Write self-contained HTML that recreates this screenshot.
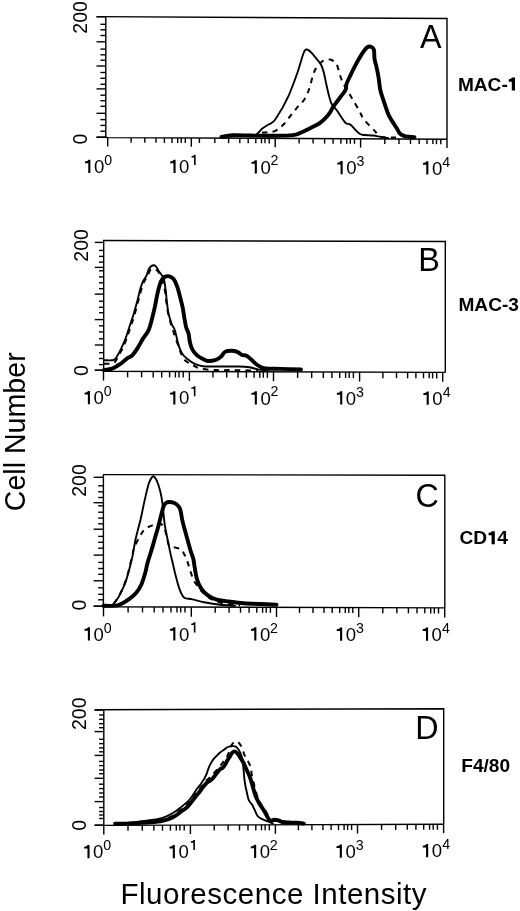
<!DOCTYPE html>
<html><head><meta charset="utf-8"><style>
html,body{margin:0;padding:0;background:#fff;}
svg{display:block;filter:grayscale(1);}
text{font-family:"Liberation Sans",sans-serif;fill:#000;}
</style></head><body>
<svg width="520" height="911" viewBox="0 0 520 911">
<rect width="520" height="911" fill="#fff"/>
<g stroke="#000" stroke-width="1.4" fill="none" stroke-linecap="butt"><path d="M96.5,16.6 L447.0,18.5 L447.0,139.2" /><path d="M105.8,16.6 L105.8,137.6" /><path d="M96.5,137.2 L105.8,137.2 L107.7,137.6 L447.0,139.2" /><path d="M96.5,16.8 H105.8" /><path d="M96.5,41.8 H105.8" /><path d="M96.5,66.0 H105.8" /><path d="M96.5,88.9 H105.8" /><path d="M96.5,113.3 H105.8" /><path d="M96.5,137.2 H105.8" /><path d="M100.4,24.3 H105.8" /><path d="M100.4,29.8 H105.8" /><path d="M100.4,35.5 H105.8" /><path d="M100.4,49.1 H105.8" /><path d="M100.4,54.8 H105.8" /><path d="M100.4,60.2 H105.8" /><path d="M100.4,72.5 H105.8" /><path d="M100.4,78.3 H105.8" /><path d="M100.4,84.3 H105.8" /><path d="M100.4,95.2 H105.8" /><path d="M100.4,100.7 H105.8" /><path d="M100.4,106.3 H105.8" /><path d="M100.4,119.6 H105.8" /><path d="M100.4,125.4 H105.8" /><path d="M100.4,131.2 H105.8" /><path d="M199.4,138.0 V143.0" /><path d="M107.7,137.6 V146.4" /><path d="M131.1,137.7 V142.7" /><path d="M144.8,137.8 V142.8" /><path d="M156.0,137.8 V142.8" /><path d="M164.4,137.9 V142.9" /><path d="M172.0,137.9 V142.9" /><path d="M177.7,137.9 V142.9" /><path d="M181.2,137.9 V142.9" /><path d="M185.3,138.0 V143.0" /><path d="M191.3,138.0 V146.8" /><path d="M214.8,138.1 V143.1" /><path d="M228.6,138.2 V143.2" /><path d="M239.8,138.2 V143.2" /><path d="M248.2,138.3 V143.3" /><path d="M255.8,138.3 V143.3" /><path d="M261.5,138.3 V143.3" /><path d="M265.0,138.3 V143.3" /><path d="M269.2,138.4 V143.4" /><path d="M275.2,138.4 V147.2" /><path d="M299.1,138.5 V143.5" /><path d="M313.1,138.6 V143.6" /><path d="M324.6,138.6 V143.6" /><path d="M333.1,138.7 V143.7" /><path d="M340.9,138.7 V143.7" /><path d="M346.7,138.7 V143.7" /><path d="M350.3,138.7 V143.7" /><path d="M354.5,138.8 V143.8" /><path d="M360.6,138.8 V147.6" /><path d="M384.8,138.9 V143.9" /><path d="M399.0,139.0 V144.0" /><path d="M410.5,139.0 V144.0" /><path d="M419.2,139.1 V144.1" /><path d="M427.0,139.1 V144.1" /><path d="M432.9,139.1 V144.1" /><path d="M436.5,139.2 V144.2" /><path d="M440.8,139.2 V144.2" /><path d="M447.0,139.2 V148.0" /></g>
<path d="M256.0,135.0 C256.5,134.5 258.0,133.0 259.0,132.0 C260.0,131.0 260.6,130.0 262.0,128.8 C263.4,127.6 266.2,125.9 267.7,125.0 C269.2,124.1 269.7,124.2 270.8,123.5 C271.9,122.8 273.4,121.8 274.5,120.5 C275.6,119.2 276.7,117.3 277.7,115.7 C278.7,114.1 279.6,112.4 280.5,111.0 C281.4,109.6 281.8,109.2 282.9,107.1 C284.0,105.0 286.0,100.9 287.2,98.5 C288.4,96.1 288.3,96.8 290.0,92.5 C291.7,88.2 295.2,79.2 297.5,72.5 C299.8,65.8 302.2,56.3 303.8,52.5 C305.3,48.7 305.8,49.5 307.0,49.5 C308.2,49.5 309.5,50.8 311.2,52.5 C313.0,54.2 315.8,57.9 317.5,60.0 C319.2,62.1 320.2,62.9 321.2,65.0 C322.3,67.1 322.9,69.4 323.8,72.5 C324.6,75.6 325.4,80.0 326.2,83.8 C327.1,87.5 327.9,91.8 328.8,95.0 C329.6,98.2 330.2,100.8 331.2,103.0 C332.3,105.2 333.9,106.5 335.0,108.0 C336.1,109.5 336.8,110.3 337.9,111.9 C339.0,113.5 340.4,115.9 341.7,117.7 C343.0,119.5 344.3,121.9 345.6,123.0 C346.9,124.1 348.3,123.7 349.4,124.2 C350.5,124.8 351.2,125.2 352.3,126.3 C353.4,127.4 354.9,129.4 356.2,130.7 C357.5,132.0 358.7,133.3 360.0,134.0 C361.3,134.7 361.6,134.8 363.8,135.0 C366.1,135.2 371.1,135.3 373.5,135.5 C375.9,135.7 376.7,136.1 378.3,136.4 C379.9,136.7 381.4,137.1 383.0,137.4 C384.6,137.7 387.2,137.9 388.0,138.0" stroke="#000" stroke-width="1.9" fill="none" stroke-linejoin="round" stroke-linecap="round"/>
<path d="M262.0,132.7 C262.9,132.6 265.5,132.6 267.7,132.3 C269.9,132.0 272.8,132.0 275.4,130.8 C277.9,129.6 280.4,127.6 283.0,125.0 C285.6,122.4 288.2,118.6 290.8,115.4 C293.4,112.2 296.3,108.4 298.5,105.8 C300.7,103.2 302.3,102.6 304.0,100.0 C305.7,97.4 306.9,95.0 308.8,90.0 C310.6,85.0 312.7,74.8 315.0,70.0 C317.3,65.2 320.0,63.0 322.5,61.2 C325.0,59.5 327.9,59.3 330.0,59.5 C332.1,59.7 333.8,61.4 335.0,62.5 C336.2,63.6 336.2,63.1 337.4,66.2 C338.6,69.4 340.0,76.3 342.2,81.2 C344.4,86.1 347.7,90.9 350.4,95.6 C353.1,100.3 356.4,105.7 358.6,109.5 C360.8,113.3 361.4,115.8 363.4,118.7 C365.4,121.6 368.6,124.7 370.6,126.8 C372.6,128.9 374.2,130.2 375.4,131.6 C376.6,133.0 376.9,134.1 378.0,135.0 C379.1,135.9 379.0,136.6 382.0,137.0 C385.0,137.4 393.7,137.4 396.0,137.5" stroke="#000" stroke-width="2.0" fill="none" stroke-dasharray="5.4 5.2" stroke-linejoin="round"/>
<path d="M221.5,137.0 C222.4,136.8 225.1,136.3 227.0,136.0 C228.9,135.7 229.2,135.4 233.0,135.3 C236.8,135.2 243.8,135.4 250.0,135.5 C256.2,135.6 263.3,135.8 270.0,135.8 C276.7,135.8 285.6,135.7 290.0,135.4 C294.4,135.2 294.7,134.8 296.7,134.3 C298.7,133.8 299.6,133.3 301.9,132.2 C304.2,131.1 307.7,129.3 310.6,127.9 C313.5,126.5 316.9,125.0 319.2,123.5 C321.5,122.0 322.7,120.9 324.4,119.2 C326.1,117.5 328.2,115.2 329.6,113.2 C331.0,111.2 332.0,108.7 333.0,107.1 C334.0,105.5 334.2,105.4 335.5,103.6 C336.8,101.8 339.1,98.8 340.8,96.5 C342.5,94.2 344.7,91.9 345.6,89.8 C346.6,87.7 345.7,86.4 346.5,84.0 C347.3,81.6 349.1,78.1 350.4,75.4 C351.7,72.7 352.8,70.5 354.2,67.7 C355.6,64.9 357.5,61.4 359.0,58.8 C360.5,56.2 361.8,54.0 363.1,52.1 C364.5,50.2 365.9,48.3 367.1,47.4 C368.3,46.5 369.4,46.4 370.5,46.7 C371.6,47.0 373.1,47.4 373.8,49.4 C374.5,51.4 374.1,55.9 374.5,58.8 C374.9,61.7 375.8,63.8 376.5,66.9 C377.2,70.1 378.0,73.9 378.6,77.7 C379.2,81.5 379.6,86.4 380.3,90.0 C381.1,93.6 382.1,96.1 383.1,99.2 C384.1,102.3 385.2,105.7 386.2,108.5 C387.2,111.3 387.9,113.7 389.2,116.2 C390.5,118.8 392.5,121.8 393.8,123.8 C395.1,125.8 395.9,126.9 396.9,128.5 C397.9,130.1 398.7,132.3 400.0,133.6 C401.3,134.9 403.1,135.6 404.6,136.1 C406.1,136.6 407.4,136.6 409.0,136.8 C410.6,137.0 413.6,137.1 414.5,137.1" stroke="#000" stroke-width="3.9" fill="none" stroke-linejoin="round" stroke-linecap="round"/>
<text x="93.88" y="173.10" font-size="18.6">0</text>
<path d="M90.38,173.10 L90.38,159.83 L88.47,159.83 Q87.87,161.56 84.95,161.56 L84.95,163.32 L88.27,163.32 L88.27,173.10 Z" fill="#000"/>
<text x="104.15" y="165.00" font-size="14.2">0</text>
<text x="179.08" y="173.10" font-size="18.6">0</text>
<path d="M175.58,173.10 L175.58,159.83 L173.67,159.83 Q173.07,161.56 170.15,161.56 L170.15,163.32 L173.47,163.32 L173.47,173.10 Z" fill="#000"/>
<path d="M195.64,165.00 L195.64,154.87 L194.19,154.87 Q193.73,156.19 191.50,156.19 L191.50,157.54 L194.03,157.54 L194.03,165.00 Z" fill="#000"/>
<text x="260.38" y="173.50" font-size="18.6">0</text>
<path d="M256.88,173.50 L256.88,160.23 L254.97,160.23 Q254.37,161.96 251.45,161.96 L251.45,163.72 L254.77,163.72 L254.77,173.50 Z" fill="#000"/>
<text x="270.49" y="165.40" font-size="14.2">2</text>
<text x="346.18" y="174.20" font-size="18.6">0</text>
<path d="M342.68,174.20 L342.68,160.93 L340.77,160.93 Q340.17,162.66 337.25,162.66 L337.25,164.42 L340.57,164.42 L340.57,174.20 Z" fill="#000"/>
<text x="356.46" y="166.10" font-size="14.2">3</text>
<text x="431.88" y="174.60" font-size="18.6">0</text>
<path d="M428.38,174.60 L428.38,161.33 L426.47,161.33 Q425.87,163.06 422.95,163.06 L422.95,164.82 L426.27,164.82 L426.27,174.60 Z" fill="#000"/>
<text x="442.37" y="166.50" font-size="14.2">4</text>
<text transform="translate(87.40,33.68) rotate(-90)" font-size="19.5">200</text>
<text transform="translate(86.90,144.56) rotate(-90)" font-size="19.5">0</text>
<text x="420.04" y="47.80" font-size="32.3">A</text>
<text x="457.92" y="90.50" font-size="19.1" font-weight="bold">MAC-</text>
<path d="M515.01,90.60 L515.01,77.58 L512.00,77.58 Q511.38,79.24 508.78,79.24 L508.78,81.65 L511.79,81.65 L511.79,90.60 Z" fill="#000"/>
<g stroke="#000" stroke-width="1.4" fill="none" stroke-linecap="butt"><path d="M103.0,240.5 L445.3,241.5 L445.3,372.4" /><path d="M103.7,240.5 L103.7,371.2" /><path d="M94.8,370.3 L103.7,370.3 L103.5,371.2 L445.3,372.4" /><path d="M94.8,242.4 H103.7" /><path d="M94.8,267.4 H103.7" /><path d="M94.8,294.1 H103.7" /><path d="M94.8,319.6 H103.7" /><path d="M94.8,345.0 H103.7" /><path d="M94.8,370.3 H103.7" /><path d="M99.0,250.4 H103.7" /><path d="M99.0,256.4 H103.7" /><path d="M99.0,262.1 H103.7" /><path d="M99.0,270.8 H103.7" /><path d="M99.0,276.9 H103.7" /><path d="M99.0,282.8 H103.7" /><path d="M99.0,288.7 H103.7" /><path d="M99.0,301.2 H103.7" /><path d="M99.0,307.3 H103.7" /><path d="M99.0,312.7 H103.7" /><path d="M99.0,325.8 H103.7" /><path d="M99.0,331.9 H103.7" /><path d="M99.0,338.8 H103.7" /><path d="M99.0,352.7 H103.7" /><path d="M99.0,358.5 H103.7" /><path d="M99.0,364.6 H103.7" /><path d="M103.5,371.2 V380.6" /><path d="M127.6,371.3 V377.3" /><path d="M141.6,371.3 V377.3" /><path d="M153.2,371.4 V377.4" /><path d="M161.7,371.4 V377.4" /><path d="M169.6,371.4 V377.4" /><path d="M175.4,371.5 V377.5" /><path d="M179.0,371.5 V377.5" /><path d="M183.2,371.5 V377.5" /><path d="M189.4,371.5 V380.9" /><path d="M212.9,371.6 V377.6" /><path d="M226.7,371.6 V377.6" /><path d="M238.0,371.7 V377.7" /><path d="M246.4,371.7 V377.7" /><path d="M254.1,371.7 V377.7" /><path d="M259.8,371.7 V377.7" /><path d="M263.3,371.8 V377.8" /><path d="M267.4,371.8 V377.8" /><path d="M273.5,371.8 V381.2" /><path d="M297.6,371.9 V377.9" /><path d="M311.7,371.9 V377.9" /><path d="M323.3,372.0 V378.0" /><path d="M331.9,372.0 V378.0" /><path d="M339.7,372.0 V378.0" /><path d="M345.6,372.0 V378.0" /><path d="M349.2,372.1 V378.1" /><path d="M353.4,372.1 V378.1" /><path d="M359.6,372.1 V381.5" /><path d="M382.9,372.2 V378.2" /><path d="M396.5,372.2 V378.2" /><path d="M407.6,372.3 V378.3" /><path d="M415.9,372.3 V378.3" /><path d="M423.5,372.3 V378.3" /><path d="M429.2,372.3 V378.3" /><path d="M432.6,372.4 V378.4" /><path d="M436.7,372.4 V378.4" /><path d="M442.7,372.4 V381.8" /></g>
<path d="M104.0,360.1 C105.6,360.1 111.2,360.8 113.5,360.0 C115.8,359.2 116.2,357.6 117.5,355.6 C118.8,353.6 120.2,350.8 121.5,347.9 C122.8,345.0 124.2,342.0 125.6,338.4 C126.9,334.8 128.3,330.3 129.6,326.3 C130.9,322.3 132.2,318.7 133.6,314.2 C134.9,309.7 136.6,303.7 137.7,299.4 C138.8,295.1 139.5,291.6 140.4,288.6 C141.3,285.6 142.1,283.3 143.1,281.2 C144.1,279.1 145.4,278.0 146.4,275.9 C147.4,273.8 148.1,270.2 149.1,268.5 C150.1,266.8 151.4,265.9 152.5,265.5 C153.6,265.1 154.8,265.3 155.9,266.4 C157.0,267.4 158.2,270.3 159.2,271.8 C160.2,273.3 161.1,273.9 161.9,275.2 C162.7,276.4 163.3,276.8 163.9,279.3 C164.5,281.8 165.2,286.4 165.7,290.2 C166.2,294.0 166.4,298.3 166.9,302.3 C167.4,306.3 167.9,310.7 168.7,314.3 C169.5,317.9 170.7,321.4 171.7,324.0 C172.7,326.6 173.9,327.4 174.8,330.0 C175.7,332.6 176.4,336.7 177.2,339.7 C178.0,342.7 178.7,345.8 179.6,348.2 C180.5,350.6 181.3,352.4 182.6,354.2 C183.9,356.0 185.4,357.4 187.4,359.0 C189.4,360.6 192.1,362.7 194.7,363.9 C197.3,365.1 199.7,365.9 203.1,366.3 C206.5,366.7 209.1,366.5 215.0,366.5 C220.9,366.5 233.0,366.4 238.8,366.5 C244.6,366.6 246.3,366.8 249.6,367.3 C252.9,367.8 255.7,369.1 258.8,369.6 C261.9,370.1 266.5,370.4 268.0,370.5" stroke="#000" stroke-width="1.9" fill="none" stroke-linejoin="round" stroke-linecap="round"/>
<path d="M104.0,363.7 C104.9,363.7 107.6,363.9 109.4,363.7 C111.2,363.5 113.3,363.7 114.8,362.3 C116.3,360.9 117.2,357.8 118.5,355.5 C119.8,353.2 121.2,351.2 122.5,348.5 C123.8,345.8 125.2,342.6 126.5,339.0 C127.8,335.4 129.2,331.0 130.5,327.0 C131.8,323.0 133.2,319.5 134.5,315.0 C135.8,310.5 137.4,304.2 138.5,300.0 C139.6,295.8 140.4,292.5 141.3,289.5 C142.2,286.5 143.0,284.2 144.0,282.0 C145.0,279.8 146.3,278.4 147.3,276.5 C148.3,274.6 149.2,271.7 150.0,270.5 C150.8,269.3 150.9,269.3 151.8,269.1 C152.7,268.9 154.1,268.6 155.2,269.1 C156.3,269.6 157.6,270.9 158.5,272.0 C159.4,273.1 159.7,274.0 160.5,276.0 C161.3,278.0 162.7,281.2 163.5,284.0 C164.3,286.8 164.8,289.8 165.3,293.0 C165.8,296.2 166.0,299.3 166.5,303.0 C167.0,306.7 167.6,311.1 168.5,315.0 C169.4,318.9 170.7,323.1 171.7,326.4 C172.7,329.7 173.5,332.0 174.5,335.0 C175.5,338.0 176.8,341.7 177.8,344.5 C178.8,347.3 179.5,349.6 180.5,352.0 C181.5,354.4 182.6,357.2 183.8,359.0 C185.1,360.8 186.6,361.5 188.0,362.5 C189.4,363.5 190.2,364.0 192.3,365.0 C194.4,366.0 196.8,367.8 200.7,368.7 C204.6,369.6 210.7,369.9 215.8,370.1 C220.9,370.3 225.6,370.1 231.2,370.1 C236.8,370.2 245.1,370.3 249.6,370.4 C254.1,370.5 256.6,370.6 258.0,370.6" stroke="#000" stroke-width="2.0" fill="none" stroke-dasharray="5.4 5.2" stroke-linejoin="round"/>
<path d="M104.0,370.1 C105.3,369.9 109.4,369.7 112.1,368.7 C114.8,367.7 117.7,365.7 120.2,364.0 C122.7,362.3 124.9,360.1 126.9,358.6 C128.9,357.2 130.5,357.1 132.3,355.3 C134.1,353.5 135.9,350.7 137.7,347.9 C139.5,345.1 141.3,341.3 143.1,338.4 C144.9,335.5 147.1,333.5 148.5,330.4 C149.9,327.3 150.8,323.5 151.8,319.6 C152.9,315.7 153.8,311.5 154.8,307.1 C155.8,302.7 156.6,297.3 157.6,293.0 C158.6,288.7 159.8,284.2 160.9,281.5 C162.1,278.8 163.1,277.9 164.5,277.0 C165.9,276.1 167.8,276.0 169.3,276.3 C170.8,276.6 172.3,277.3 173.6,279.0 C174.9,280.7 176.1,283.5 177.2,286.6 C178.3,289.7 179.3,294.0 180.2,297.4 C181.1,300.8 181.9,303.7 182.6,307.1 C183.3,310.5 183.8,314.6 184.4,318.0 C185.0,321.4 185.5,325.0 186.2,327.6 C186.9,330.2 188.0,331.3 188.6,333.7 C189.2,336.1 189.3,339.5 189.9,342.1 C190.5,344.7 191.1,347.2 192.3,349.4 C193.5,351.6 195.3,353.8 197.1,355.4 C198.9,357.0 201.3,358.1 203.1,359.0 C204.9,359.9 205.9,360.9 208.0,361.0 C210.1,361.1 213.6,360.6 215.8,359.9 C218.0,359.1 219.7,357.8 221.2,356.5 C222.7,355.2 223.3,352.8 225.0,351.9 C226.7,350.9 229.1,350.8 231.2,350.8 C233.2,350.8 235.5,351.2 237.3,351.9 C239.1,352.6 240.4,354.4 241.9,355.0 C243.4,355.6 244.9,355.0 246.5,355.8 C248.1,356.6 249.4,358.1 251.2,359.6 C253.0,361.1 255.2,363.6 257.3,365.0 C259.4,366.4 261.4,367.5 263.5,368.1 C265.6,368.7 267.2,368.6 270.0,368.7 C272.8,368.8 274.8,368.8 280.0,368.9 C285.2,369.0 297.5,369.4 301.0,369.5" stroke="#000" stroke-width="3.9" fill="none" stroke-linejoin="round" stroke-linecap="round"/>
<text x="93.48" y="404.30" font-size="18.6">0</text>
<path d="M89.98,404.30 L89.98,391.03 L88.07,391.03 Q87.47,392.76 84.55,392.76 L84.55,394.52 L87.87,394.52 L87.87,404.30 Z" fill="#000"/>
<text x="103.75" y="396.20" font-size="14.2">0</text>
<text x="178.88" y="404.40" font-size="18.6">0</text>
<path d="M175.38,404.40 L175.38,391.13 L173.47,391.13 Q172.87,392.86 169.95,392.86 L169.95,394.62 L173.27,394.62 L173.27,404.40 Z" fill="#000"/>
<path d="M195.44,396.30 L195.44,386.17 L193.99,386.17 Q193.53,387.49 191.30,387.49 L191.30,388.84 L193.83,388.84 L193.83,396.30 Z" fill="#000"/>
<text x="260.38" y="404.50" font-size="18.6">0</text>
<path d="M256.88,404.50 L256.88,391.23 L254.97,391.23 Q254.37,392.96 251.45,392.96 L251.45,394.72 L254.77,394.72 L254.77,404.50 Z" fill="#000"/>
<text x="270.49" y="396.40" font-size="14.2">2</text>
<text x="345.78" y="404.60" font-size="18.6">0</text>
<path d="M342.28,404.60 L342.28,391.33 L340.37,391.33 Q339.77,393.06 336.85,393.06 L336.85,394.82 L340.17,394.82 L340.17,404.60 Z" fill="#000"/>
<text x="356.06" y="396.50" font-size="14.2">3</text>
<text x="432.28" y="404.70" font-size="18.6">0</text>
<path d="M428.78,404.70 L428.78,391.43 L426.87,391.43 Q426.27,393.16 423.35,393.16 L423.35,394.92 L426.67,394.92 L426.67,404.70 Z" fill="#000"/>
<text x="442.77" y="396.60" font-size="14.2">4</text>
<text transform="translate(88.40,261.68) rotate(-90)" font-size="19.5">200</text>
<text transform="translate(88.20,375.96) rotate(-90)" font-size="19.5">0</text>
<text x="418.15" y="270.60" font-size="32.3">B</text>
<text x="458.47" y="310.70" font-size="19.1" font-weight="bold">MAC-3</text>
<g stroke="#000" stroke-width="1.4" fill="none" stroke-linecap="butt"><path d="M103.0,474.6 L444.8,475.3 L444.8,607.9" /><path d="M103.4,474.6 L103.4,606.8" /><path d="M93.6,606.1 L103.4,606.1 L103.5,606.8 L444.8,607.9" /><path d="M93.6,477.3 H103.4" /><path d="M93.6,502.7 H103.4" /><path d="M93.6,529.2 H103.4" /><path d="M93.6,555.1 H103.4" /><path d="M93.6,580.8 H103.4" /><path d="M93.6,606.2 H103.4" /><path d="M98.2,485.8 H103.4" /><path d="M98.2,491.8 H103.4" /><path d="M98.2,497.5 H103.4" /><path d="M98.2,505.8 H103.4" /><path d="M98.2,512.2 H103.4" /><path d="M98.2,518.1 H103.4" /><path d="M98.2,523.8 H103.4" /><path d="M98.2,536.4 H103.4" /><path d="M98.2,542.3 H103.4" /><path d="M98.2,548.2 H103.4" /><path d="M98.2,562.4 H103.4" /><path d="M98.2,568.5 H103.4" /><path d="M98.2,574.3 H103.4" /><path d="M98.2,587.8 H103.4" /><path d="M98.2,594.3 H103.4" /><path d="M98.2,599.8 H103.4" /><path d="M103.5,606.8 V616.4" /><path d="M128.1,606.9 V612.4" /><path d="M142.5,606.9 V612.4" /><path d="M154.2,607.0 V612.5" /><path d="M163.0,607.0 V612.5" /><path d="M171.0,607.0 V612.5" /><path d="M177.0,607.0 V612.5" /><path d="M180.7,607.0 V612.5" /><path d="M185.0,607.1 V612.6" /><path d="M191.3,607.1 V616.7" /><path d="M215.2,607.2 V612.7" /><path d="M229.1,607.2 V612.7" /><path d="M240.5,607.2 V612.7" /><path d="M249.1,607.3 V612.8" /><path d="M256.8,607.3 V612.8" /><path d="M262.6,607.3 V612.8" /><path d="M266.2,607.3 V612.8" /><path d="M270.4,607.3 V612.8" /><path d="M276.5,607.4 V617.0" /><path d="M299.5,607.4 V612.9" /><path d="M313.0,607.5 V613.0" /><path d="M324.0,607.5 V613.0" /><path d="M332.2,607.5 V613.0" /><path d="M339.7,607.6 V613.1" /><path d="M345.3,607.6 V613.1" /><path d="M348.8,607.6 V613.1" /><path d="M352.8,607.6 V613.1" /><path d="M358.7,607.6 V617.2" /><path d="M382.8,607.7 V613.2" /><path d="M396.9,607.7 V613.2" /><path d="M408.4,607.8 V613.3" /><path d="M417.0,607.8 V613.3" /><path d="M424.8,607.8 V613.3" /><path d="M430.7,607.9 V613.4" /><path d="M434.3,607.9 V613.4" /><path d="M438.5,607.9 V613.4" /><path d="M444.7,607.9 V617.5" /></g>
<path d="M103.5,605.8 C104.7,605.8 108.4,606.5 110.4,605.8 C112.4,605.1 113.9,603.7 115.6,601.5 C117.3,599.3 119.1,596.3 120.8,592.8 C122.5,589.3 124.5,585.1 126.0,580.7 C127.5,576.3 128.9,570.6 130.0,566.5 C131.1,562.4 131.6,560.5 132.5,556.1 C133.4,551.7 134.5,544.5 135.4,540.0 C136.3,535.5 137.2,532.6 138.1,529.0 C139.0,525.4 139.7,523.4 140.8,518.5 C141.9,513.6 143.5,505.4 144.8,499.6 C146.1,493.8 147.7,487.1 148.8,483.5 C149.9,479.9 150.7,479.2 151.5,478.0 C152.3,476.8 152.7,475.8 153.6,476.3 C154.5,476.8 155.8,478.3 156.9,480.8 C158.0,483.3 159.4,487.9 160.3,491.5 C161.2,495.1 161.8,498.5 162.3,502.3 C162.9,506.1 163.2,510.4 163.6,514.4 C164.0,518.4 164.3,522.2 165.0,526.5 C165.7,530.8 166.8,535.5 167.7,540.0 C168.6,544.5 169.6,549.6 170.4,553.4 C171.2,557.2 171.8,559.0 172.7,563.0 C173.6,567.0 174.9,572.9 176.1,577.3 C177.2,581.7 178.4,586.2 179.6,589.4 C180.8,592.6 181.9,595.0 183.0,596.5 C184.1,598.0 184.4,597.8 186.0,598.3 C187.6,598.8 189.5,598.7 192.7,599.4 C195.9,600.1 200.8,601.6 205.4,602.5 C210.0,603.4 215.3,604.2 220.2,604.7 C225.1,605.2 232.5,605.5 235.0,605.7" stroke="#000" stroke-width="1.9" fill="none" stroke-linejoin="round" stroke-linecap="round"/>
<path d="M104.0,606.5 C105.3,606.2 109.8,606.2 112.0,605.0 C114.2,603.8 115.3,601.5 117.0,599.0 C118.7,596.5 120.3,593.7 122.0,590.0 C123.7,586.3 125.6,581.5 127.0,577.0 C128.4,572.5 129.6,566.7 130.5,563.0 C131.4,559.3 131.9,557.5 132.5,555.0 C133.1,552.5 132.8,551.1 134.0,548.1 C135.2,545.1 137.6,540.4 139.4,537.3 C141.2,534.1 142.6,531.2 144.8,529.2 C147.1,527.2 150.4,526.1 152.9,525.2 C155.4,524.3 157.8,523.6 159.6,523.8 C161.4,524.0 162.5,524.7 163.6,526.5 C164.7,528.3 165.4,531.5 166.3,534.6 C167.2,537.8 167.7,543.3 169.0,545.4 C170.3,547.5 172.4,546.7 174.4,547.4 C176.4,548.1 179.5,548.4 181.1,549.4 C182.7,550.4 182.9,551.8 183.8,553.4 C184.7,555.0 185.7,556.9 186.5,558.8 C187.3,560.7 187.8,562.8 188.5,565.0 C189.2,567.2 189.7,569.4 190.6,571.9 C191.5,574.4 192.5,577.8 193.7,580.3 C194.9,582.8 196.4,584.6 198.0,586.7 C199.6,588.8 201.0,590.9 203.3,593.0 C205.6,595.1 208.2,597.6 211.7,599.4 C215.2,601.2 219.7,602.6 224.4,603.6 C229.1,604.6 237.4,605.2 240.0,605.5" stroke="#000" stroke-width="2.0" fill="none" stroke-dasharray="5.4 5.2" stroke-linejoin="round"/>
<path d="M103.5,605.8 C105.5,605.8 112.4,606.0 115.6,605.6 C118.8,605.2 120.2,604.3 122.5,603.2 C124.8,602.1 127.1,600.6 129.4,598.9 C131.7,597.2 134.3,595.2 136.3,592.8 C138.3,590.3 140.1,587.4 141.5,584.2 C142.9,581.0 144.0,577.3 145.0,573.8 C146.0,570.3 146.7,566.1 147.5,563.0 C148.3,559.9 149.1,557.9 150.0,555.0 C150.9,552.1 152.0,548.6 152.9,545.4 C153.8,542.2 154.6,539.1 155.5,536.0 C156.4,532.9 157.4,529.9 158.3,526.5 C159.2,523.1 160.1,519.2 161.0,515.8 C161.9,512.4 162.8,508.4 163.6,506.3 C164.4,504.2 165.1,503.7 166.0,503.0 C166.9,502.3 167.6,502.0 169.0,502.0 C170.4,502.0 172.8,502.3 174.4,503.0 C176.0,503.7 177.5,505.1 178.5,506.3 C179.5,507.5 179.8,507.9 180.5,510.4 C181.2,512.9 181.5,516.8 182.5,521.1 C183.5,525.4 185.2,531.0 186.5,536.0 C187.8,541.0 189.5,547.0 190.6,550.8 C191.7,554.6 192.6,555.9 193.3,558.8 C194.0,561.7 194.2,564.6 194.8,568.0 C195.4,571.4 195.9,575.6 196.9,579.0 C197.9,582.4 199.3,585.6 201.1,588.3 C202.9,591.0 205.0,593.2 207.5,595.1 C210.0,597.0 212.4,598.3 215.9,599.4 C219.4,600.5 224.0,600.9 228.6,601.5 C233.2,602.1 238.1,602.8 243.4,603.2 C248.7,603.6 254.8,603.8 260.3,604.0 C265.8,604.2 273.8,604.6 276.5,604.7" stroke="#000" stroke-width="3.9" fill="none" stroke-linejoin="round" stroke-linecap="round"/>
<text x="93.48" y="640.60" font-size="18.6">0</text>
<path d="M89.98,640.60 L89.98,627.33 L88.07,627.33 Q87.47,629.06 84.55,629.06 L84.55,630.82 L87.87,630.82 L87.87,640.60 Z" fill="#000"/>
<text x="103.75" y="632.50" font-size="14.2">0</text>
<text x="178.88" y="640.60" font-size="18.6">0</text>
<path d="M175.38,640.60 L175.38,627.33 L173.47,627.33 Q172.87,629.06 169.95,629.06 L169.95,630.82 L173.27,630.82 L173.27,640.60 Z" fill="#000"/>
<path d="M195.44,632.50 L195.44,622.37 L193.99,622.37 Q193.53,623.69 191.30,623.69 L191.30,625.04 L193.83,625.04 L193.83,632.50 Z" fill="#000"/>
<text x="259.88" y="640.60" font-size="18.6">0</text>
<path d="M256.38,640.60 L256.38,627.33 L254.47,627.33 Q253.87,629.06 250.95,629.06 L250.95,630.82 L254.27,630.82 L254.27,640.60 Z" fill="#000"/>
<text x="269.99" y="632.50" font-size="14.2">2</text>
<text x="345.68" y="640.70" font-size="18.6">0</text>
<path d="M342.18,640.70 L342.18,627.43 L340.27,627.43 Q339.67,629.16 336.75,629.16 L336.75,630.92 L340.07,630.92 L340.07,640.70 Z" fill="#000"/>
<text x="355.96" y="632.60" font-size="14.2">3</text>
<text x="431.58" y="640.70" font-size="18.6">0</text>
<path d="M428.08,640.70 L428.08,627.43 L426.17,627.43 Q425.57,629.16 422.65,629.16 L422.65,630.92 L425.97,630.92 L425.97,640.70 Z" fill="#000"/>
<text x="442.07" y="632.60" font-size="14.2">4</text>
<text transform="translate(86.00,496.78) rotate(-90)" font-size="19.5">200</text>
<text transform="translate(85.80,610.56) rotate(-90)" font-size="19.5">0</text>
<text x="415.56" y="506.50" font-size="32.3">C</text>
<text x="459.47" y="544.20" font-size="19.1" font-weight="bold">CD</text>
<path d="M494.81,544.20 L494.81,531.18 L491.80,531.18 Q491.18,532.84 488.58,532.84 L488.58,535.25 L491.59,535.25 L491.59,544.20 Z" fill="#000"/>
<text x="497.21" y="544.20" font-size="19.1" font-weight="bold">4</text>
<g stroke="#000" stroke-width="1.4" fill="none" stroke-linecap="butt"><path d="M94.6,709.8 L443.7,708.7 L443.7,824.2" /><path d="M103.8,709.8 L103.8,825.4" /><path d="M94.6,825.2 L103.8,825.2 L103.8,825.4 L443.7,824.2" /><path d="M94.6,710.1 H103.8" /><path d="M94.6,731.6 H103.8" /><path d="M94.6,755.4 H103.8" /><path d="M94.6,778.3 H103.8" /><path d="M94.6,801.6 H103.8" /><path d="M94.6,825.2 H103.8" /><path d="M99.1,715.0 H103.8" /><path d="M99.1,719.3 H103.8" /><path d="M99.1,723.7 H103.8" /><path d="M99.1,727.7 H103.8" /><path d="M99.1,739.3 H103.8" /><path d="M99.1,743.6 H103.8" /><path d="M99.1,747.9 H103.8" /><path d="M99.1,751.8 H103.8" /><path d="M99.1,761.4 H103.8" /><path d="M99.1,765.6 H103.8" /><path d="M99.1,770.0 H103.8" /><path d="M99.1,773.7 H103.8" /><path d="M99.1,784.2 H103.8" /><path d="M99.1,788.6 H103.8" /><path d="M99.1,793.0 H103.8" /><path d="M99.1,797.0 H103.8" /><path d="M99.1,807.5 H103.8" /><path d="M99.1,811.5 H103.8" /><path d="M99.1,815.0 H103.8" /><path d="M99.1,818.5 H103.8" /><path d="M103.8,825.4 V834.4" /><path d="M128.0,825.3 V830.8" /><path d="M142.3,825.3 V830.8" /><path d="M153.9,825.2 V830.7" /><path d="M162.5,825.2 V830.7" /><path d="M170.4,825.2 V830.7" /><path d="M176.3,825.1 V830.6" /><path d="M179.9,825.1 V830.6" /><path d="M184.2,825.1 V830.6" /><path d="M190.4,825.1 V834.1" /><path d="M214.2,825.0 V830.5" /><path d="M228.1,825.0 V830.5" /><path d="M239.5,824.9 V830.4" /><path d="M248.0,824.9 V830.4" /><path d="M255.8,824.9 V830.4" /><path d="M261.5,824.8 V830.3" /><path d="M265.1,824.8 V830.3" /><path d="M269.3,824.8 V830.3" /><path d="M275.4,824.8 V833.8" /><path d="M298.4,824.7 V830.2" /><path d="M311.9,824.7 V830.2" /><path d="M322.9,824.6 V830.1" /><path d="M331.1,824.6 V830.1" /><path d="M338.5,824.6 V830.1" /><path d="M344.1,824.6 V830.1" /><path d="M347.6,824.5 V830.0" /><path d="M351.6,824.5 V830.0" /><path d="M357.5,824.5 V833.5" /><path d="M381.6,824.4 V829.9" /><path d="M395.7,824.4 V829.9" /><path d="M407.3,824.3 V829.8" /><path d="M415.9,824.3 V829.8" /><path d="M423.7,824.3 V829.8" /><path d="M429.6,824.2 V829.7" /><path d="M433.2,824.2 V829.7" /><path d="M437.4,824.2 V829.7" /><path d="M443.6,824.2 V833.2" /></g>
<path d="M115.0,824.0 C116.7,823.9 121.9,823.6 125.0,823.3 C128.1,823.0 129.6,822.7 133.8,822.2 C138.0,821.7 145.2,820.9 150.0,820.2 C154.8,819.5 158.8,818.9 162.5,817.8 C166.2,816.6 169.4,815.1 172.5,813.3 C175.6,811.5 178.3,809.4 181.2,807.0 C184.2,804.6 187.4,802.0 190.0,799.0 C192.6,796.0 194.9,791.7 196.7,789.2 C198.5,786.7 199.6,785.7 200.8,784.0 C202.1,782.3 203.2,780.5 204.2,778.9 C205.1,777.3 205.8,775.9 206.5,774.2 C207.2,772.6 207.6,770.7 208.3,769.0 C209.0,767.3 209.7,765.4 210.6,763.8 C211.5,762.2 212.4,760.6 213.5,759.2 C214.6,757.8 215.8,756.8 216.9,755.6 C218.1,754.5 219.2,753.3 220.4,752.3 C221.6,751.3 222.9,750.5 223.9,749.7 C224.9,749.0 225.5,748.3 226.5,747.8 C227.5,747.2 228.9,746.7 230.0,746.4 C231.1,746.1 231.9,746.0 232.9,746.1 C233.9,746.2 234.9,746.2 235.8,746.7 C236.7,747.2 237.4,748.1 238.1,749.0 C238.8,749.9 239.2,750.6 239.8,751.8 C240.4,753.0 241.0,754.3 241.5,756.0 C242.0,757.7 242.4,759.2 242.8,762.0 C243.2,764.8 243.5,769.1 243.8,772.5 C244.1,775.9 244.3,779.1 244.8,782.4 C245.3,785.7 246.1,789.3 246.8,792.3 C247.5,795.3 248.0,798.2 248.8,800.2 C249.6,802.2 250.7,802.5 251.7,804.1 C252.7,805.7 253.7,808.0 254.7,810.0 C255.7,812.0 256.5,814.5 257.6,816.0 C258.8,817.5 260.1,818.1 261.6,818.9 C263.1,819.7 264.6,820.1 266.5,820.9 C268.4,821.7 271.8,823.1 272.9,823.6" stroke="#000" stroke-width="1.9" fill="none" stroke-linejoin="round" stroke-linecap="round"/>
<path d="M116.0,823.5 C119.5,823.4 129.7,823.2 136.7,822.6 C143.7,822.0 151.9,821.1 157.9,820.0 C163.9,818.9 168.6,817.6 172.5,815.8 C176.4,814.0 178.8,811.3 181.2,809.3 C183.8,807.3 185.5,806.0 187.5,804.0 C189.5,802.0 191.0,799.5 193.0,797.0 C195.0,794.5 198.0,791.0 199.6,789.0 C201.2,787.0 201.3,786.7 202.5,785.2 C203.7,783.8 205.3,781.6 206.5,780.3 C207.7,779.0 208.8,778.4 209.8,777.5 C210.8,776.6 211.5,775.8 212.3,775.0 C213.1,774.2 213.7,773.5 214.6,772.5 C215.5,771.5 216.5,770.2 217.5,769.0 C218.5,767.8 219.4,766.7 220.4,765.5 C221.4,764.3 222.3,763.1 223.3,761.8 C224.3,760.5 225.4,759.1 226.2,757.8 C227.0,756.5 227.7,755.4 228.3,754.0 C228.9,752.6 229.4,751.0 230.0,749.5 C230.6,748.0 231.0,746.2 231.7,745.0 C232.4,743.8 233.1,742.9 234.0,742.3 C234.9,741.7 236.3,741.3 237.3,741.6 C238.3,741.9 239.1,743.1 239.9,744.2 C240.7,745.3 241.6,746.5 242.3,748.3 C243.0,750.0 243.6,753.0 244.3,754.7 C245.0,756.4 245.5,757.2 246.3,758.7 C247.1,760.2 248.4,761.9 249.2,763.6 C250.0,765.3 250.8,766.9 251.2,769.0 C251.6,771.1 251.3,773.2 251.9,776.0 C252.5,778.8 253.6,782.7 254.5,786.0 C255.4,789.3 256.2,793.0 257.3,796.0 C258.4,799.0 259.7,801.7 261.0,804.0 C262.3,806.3 263.7,807.9 265.0,810.0 C266.3,812.1 267.6,814.8 268.7,816.5 C269.8,818.2 269.6,819.5 271.5,820.3 C273.4,821.1 276.6,820.9 280.0,821.3 C283.4,821.6 288.2,822.0 292.0,822.4 C295.8,822.8 301.2,823.3 303.0,823.5" stroke="#000" stroke-width="2.0" fill="none" stroke-dasharray="5.4 5.2" stroke-linejoin="round"/>
<path d="M115.0,823.8 C116.7,823.8 121.4,823.7 125.0,823.6 C128.6,823.5 132.5,823.4 136.7,823.2 C140.9,823.0 145.7,822.8 150.0,822.4 C154.3,822.0 158.8,821.6 162.5,820.8 C166.2,820.0 169.4,819.0 172.5,817.5 C175.6,816.0 178.8,813.3 181.2,811.5 C183.8,809.7 185.5,808.7 187.5,806.8 C189.5,804.9 191.0,802.5 193.0,800.0 C195.0,797.5 198.0,793.7 199.6,791.7 C201.2,789.7 201.3,789.2 202.5,787.8 C203.7,786.4 205.3,784.4 206.5,783.2 C207.7,782.0 208.8,781.5 209.8,780.8 C210.8,780.1 211.5,779.6 212.3,778.8 C213.1,778.0 213.7,777.1 214.6,776.0 C215.5,774.9 216.5,773.5 217.5,772.3 C218.5,771.1 219.6,769.7 220.4,769.0 C221.2,768.3 221.7,768.7 222.5,768.0 C223.3,767.3 224.2,766.1 225.0,764.8 C225.8,763.5 226.8,761.4 227.6,760.0 C228.4,758.6 229.2,757.5 230.0,756.3 C230.8,755.1 231.5,753.5 232.3,752.7 C233.1,751.9 234.0,751.2 235.0,751.5 C236.0,751.8 237.1,753.1 238.1,754.3 C239.1,755.5 240.0,757.1 241.0,758.7 C242.0,760.3 243.2,762.2 244.0,763.9 C244.8,765.5 245.1,766.5 246.0,768.6 C246.9,770.7 248.6,773.5 249.7,776.5 C250.8,779.5 251.7,783.0 252.7,786.3 C253.7,789.6 254.5,793.2 255.7,796.2 C256.9,799.2 258.3,801.8 259.6,804.1 C260.9,806.4 262.3,807.9 263.6,810.0 C264.9,812.1 266.4,815.2 267.5,817.0 C268.6,818.8 269.1,820.3 270.2,820.8 C271.3,821.3 272.8,819.9 274.2,819.8 C275.6,819.7 276.9,819.9 278.3,820.3 C279.7,820.7 280.3,821.6 282.3,822.0 C284.3,822.4 287.9,822.5 290.4,822.6 C292.9,822.7 294.9,822.5 297.1,822.7 C299.3,822.9 302.7,823.5 303.8,823.6" stroke="#000" stroke-width="3.9" fill="none" stroke-linejoin="round" stroke-linecap="round"/>
<text x="93.08" y="858.30" font-size="18.6">0</text>
<path d="M89.58,858.30 L89.58,845.03 L87.67,845.03 Q87.07,846.76 84.15,846.76 L84.15,848.52 L87.47,848.52 L87.47,858.30 Z" fill="#000"/>
<text x="103.35" y="850.20" font-size="14.2">0</text>
<text x="178.38" y="858.20" font-size="18.6">0</text>
<path d="M174.88,858.20 L174.88,844.93 L172.97,844.93 Q172.37,846.66 169.45,846.66 L169.45,848.42 L172.77,848.42 L172.77,858.20 Z" fill="#000"/>
<path d="M194.94,850.10 L194.94,839.97 L193.49,839.97 Q193.03,841.29 190.80,841.29 L190.80,842.64 L193.33,842.64 L193.33,850.10 Z" fill="#000"/>
<text x="259.68" y="858.00" font-size="18.6">0</text>
<path d="M256.18,858.00 L256.18,844.73 L254.27,844.73 Q253.67,846.46 250.75,846.46 L250.75,848.22 L254.07,848.22 L254.07,858.00 Z" fill="#000"/>
<text x="269.79" y="849.90" font-size="14.2">2</text>
<text x="345.38" y="857.80" font-size="18.6">0</text>
<path d="M341.88,857.80 L341.88,844.53 L339.97,844.53 Q339.37,846.26 336.45,846.26 L336.45,848.02 L339.77,848.02 L339.77,857.80 Z" fill="#000"/>
<text x="355.66" y="849.70" font-size="14.2">3</text>
<text x="431.68" y="857.30" font-size="18.6">0</text>
<path d="M428.18,857.30 L428.18,844.03 L426.27,844.03 Q425.67,845.76 422.75,845.76 L422.75,847.52 L426.07,847.52 L426.07,857.30 Z" fill="#000"/>
<text x="442.17" y="849.20" font-size="14.2">4</text>
<text transform="translate(86.00,729.98) rotate(-90)" font-size="19.5">200</text>
<text transform="translate(85.50,830.66) rotate(-90)" font-size="19.5">0</text>
<text x="415.25" y="738.60" font-size="32.3">D</text>
<text x="461.22" y="771.90" font-size="19.1" font-weight="bold">F4/80</text>
<text transform="translate(24.9,511.25) rotate(-90)" font-size="28.6">Cell Number</text>
<text x="120.5" y="903.8" font-size="29.5" letter-spacing="0.52">Fluorescence Intensity</text>
</svg>
</body></html>
